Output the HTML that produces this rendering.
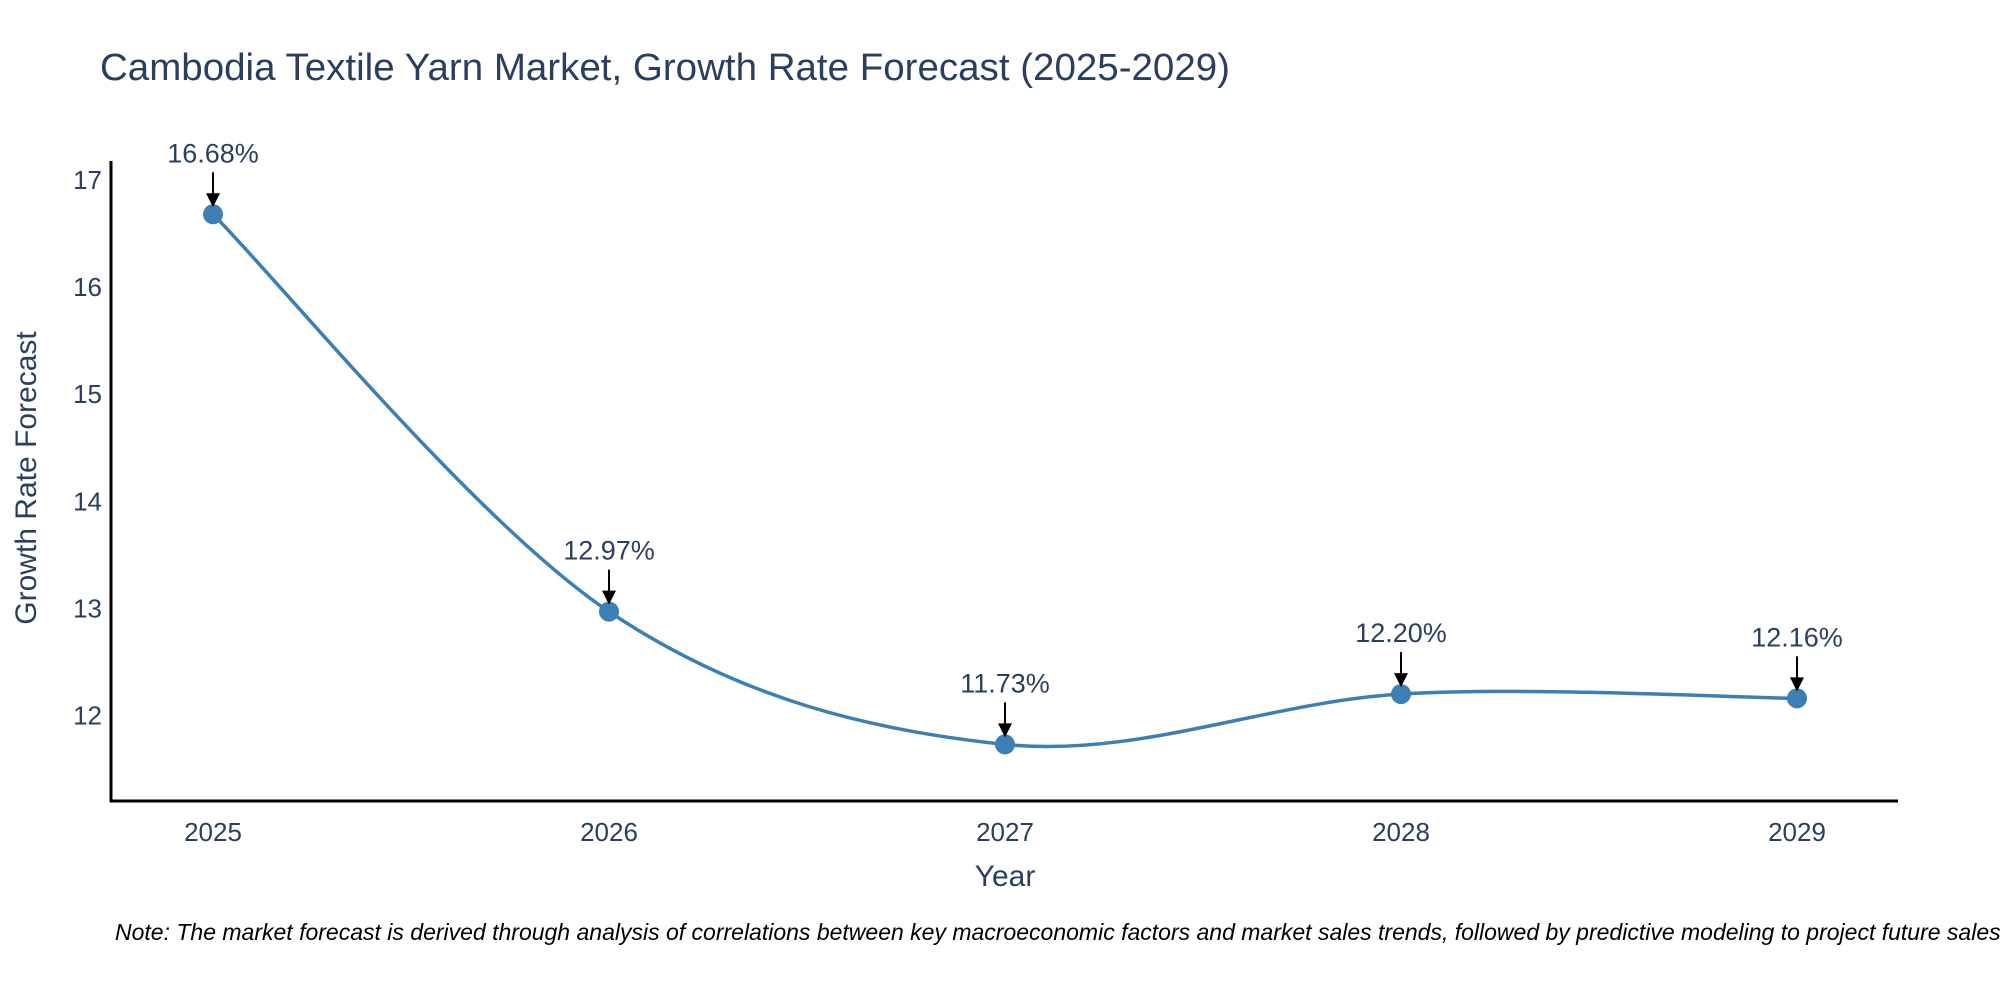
<!DOCTYPE html>
<html><head><meta charset="utf-8"><style>
body{margin:0;background:#fff;}
svg{display:block;font-family:"Liberation Sans",sans-serif;}
</style></head><body>
<svg id="chart" width="2000" height="1000" viewBox="0 0 2000 1000" xmlns="http://www.w3.org/2000/svg">
<rect width="2000" height="1000" fill="#fff"/>
<text x="100" y="80" font-size="38" fill="#2a3f5f" textLength="1130" lengthAdjust="spacingAndGlyphs">Cambodia Textile Yarn Market, Growth Rate Forecast (2025-2029)</text>
<g id="yticks"></g><g id="xticks"></g>
<line x1="111" y1="161" x2="111" y2="802" stroke="#000" stroke-width="3"/>
<line x1="110" y1="801" x2="1898" y2="801" stroke="#000" stroke-width="3"/>
<text x="1005" y="886" font-size="30" fill="#2a3f5f" text-anchor="middle">Year</text>
<text transform="translate(36,478) rotate(-90)" font-size="30" fill="#2a3f5f" text-anchor="middle">Growth Rate Forecast</text>
<g id="series"></g><g id="annots"></g>
<text x="115" y="940" font-size="23" font-style="italic" fill="#000">Note: The market forecast is derived through analysis of correlations between key macroeconomic factors and market sales trends, followed by predictive modeling to project future sales</text>
</svg>
<script>
const years = [2025, 2026, 2027, 2028, 2029];
const growth = [16.68, 12.97, 11.73, 12.20, 12.16];
const growthLabels = ["16.68%", "12.97%", "11.73%", "12.20%", "12.16%"];
const yTickValues = [12, 13, 14, 15, 16, 17];

const NS = "http://www.w3.org/2000/svg";
function xs(v){ return 213 + (v - 2025) * 396; }
function ys(v){ return 180 + (17 - v) * 107.1; }
function mk(tag, attrs, parent){ const e=document.createElementNS(NS,tag); for(const k in attrs) e.setAttribute(k,attrs[k]); parent.appendChild(e); return e; }

const yt=document.getElementById('yticks');
yTickValues.forEach(v=>{
  const t=mk('text',{x:102,y:ys(v)+9,'font-size':26,fill:'#2a3f5f','text-anchor':'end'},yt);
  
  
  t.textContent=v;
});
const xt=document.getElementById('xticks');
years.forEach(v=>{
  const t=mk('text',{x:xs(v),y:841,'font-size':26,fill:'#2a3f5f','text-anchor':'middle'},xt);
  
  
  t.textContent=v;
});

const pts=years.map((y,i)=>[xs(y),ys(growth[i])]);
let d=`M${pts[0][0]},${pts[0][1]}`;
for(let i=0;i<pts.length-1;i++){
  const p0=pts[Math.max(0,i-1)],p1=pts[i],p2=pts[i+1],p3=pts[Math.min(pts.length-1,i+2)];
  const c1=[p1[0]+(p2[0]-p0[0])/6,p1[1]+(p2[1]-p0[1])/6];
  const c2=[p2[0]-(p3[0]-p1[0])/6,p2[1]-(p3[1]-p1[1])/6];
  d+=` C${c1[0]},${c1[1]} ${c2[0]},${c2[1]} ${p2[0]},${p2[1]}`;
}
const s=document.getElementById('series');
const line=mk('path',{d:d,fill:'none',stroke:'#3b7fb4','stroke-width':3.5},s);


pts.forEach(p=>{
  const c=mk('circle',{cx:p[0],cy:p[1],r:10,fill:'#3b7fb4'},s);
  
  
});
const a=document.getElementById('annots');
pts.forEach((p,i)=>{
  const l=mk('line',{x1:p[0],y1:p[1]-42,x2:p[0],y2:p[1]-18,stroke:'#000','stroke-width':2},a);
  
  
  const h=mk('polygon',{points:`${p[0]-7},${p[1]-21} ${p[0]+7},${p[1]-21} ${p[0]},${p[1]-7}`,fill:'#000'},a);
  
  
  const t=mk('text',{x:p[0],y:p[1]-52,'font-size':27,fill:'#2a3f5f','text-anchor':'middle'},a);
  
  
  t.textContent=growthLabels[i];
});
</script>
</body></html>
